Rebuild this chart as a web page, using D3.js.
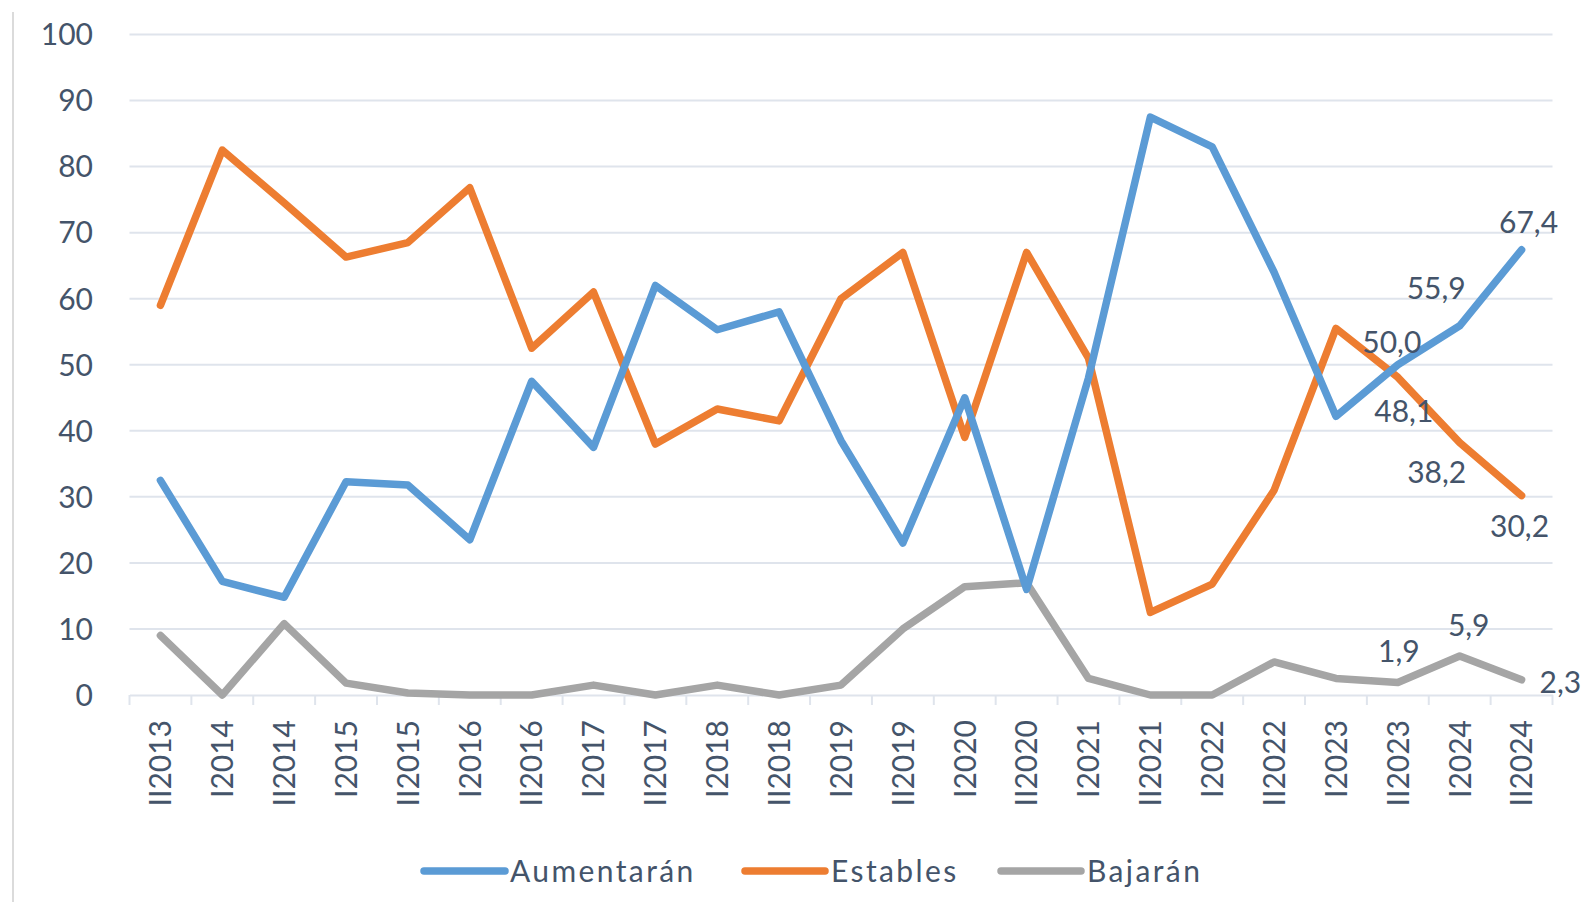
<!DOCTYPE html>
<html>
<head>
<meta charset="utf-8">
<script src="https://cdn.jsdelivr.net/npm/d3@7/dist/d3.min.js"></script>
<style>
  html, body { margin: 0; padding: 0; background: #ffffff; }
  svg { display: block; }
  text { font-family: Lato, "Open Sans", sans-serif; fill: #44546a; }
</style>
</head>
<body>
<script>
const categories = ["II2013","I2014","II2014","I2015","II2015","I2016","II2016","I2017","II2017","I2018","II2018","I2019","II2019","I2020","II2020","I2021","II2021","I2022","II2022","I2023","II2023","I2024","II2024"];
const aumentaran = [32.5, 17.2, 14.8, 32.3, 31.8, 23.5, 47.5, 37.5, 62.0, 55.3, 58.0, 38.5, 23.0, 45.0, 16.0, 48.0, 87.5, 83.0, 64.0, 42.2, 50.0, 55.9, 67.4];
const estables   = [59.0, 82.5, 74.5, 66.3, 68.5, 76.8, 52.5, 61.0, 38.0, 43.3, 41.5, 60.0, 67.0, 39.0, 67.0, 51.0, 12.5, 16.8, 31.0, 55.5, 48.1, 38.2, 30.2];
const bajaran    = [9.0, 0.0, 10.8, 1.8, 0.3, 0.0, 0.0, 1.5, 0.0, 1.5, 0.0, 1.5, 10.0, 16.4, 17.0, 2.5, 0.0, 0.0, 5.0, 2.5, 1.9, 5.9, 2.3];
const seriesNames = ["Aumentarán", "Estables", "Bajarán"];
const yTicks = [0, 10, 20, 30, 40, 50, 60, 70, 80, 90, 100];
const labeledIdx = [20, 21, 22];

(function () {
const colors = ["#5b9bd5", "#ed7d31", "#a5a5a5"];
const W = 1588, H = 902;
const pLeft = 129.5, pRight = 1552.5, pTop = 34.5, pBottom = 695;

const svg = d3.select("body").append("svg").attr("width", W).attr("height", H);

// left border line
svg.append("line").attr("x1", 13).attr("x2", 13).attr("y1", 12).attr("y2", H)
  .attr("stroke", "#cfcfcf").attr("stroke-width", 1.5);

const x = d3.scaleBand().domain(categories).range([pLeft, pRight]).padding(0);
const y = d3.scaleLinear().domain([0, 100]).range([pBottom, pTop]);

// gridlines
svg.append("g").selectAll("line").data(yTicks.filter(d => d > 0)).join("line")
  .attr("x1", pLeft).attr("x2", pRight)
  .attr("y1", d => y(d)).attr("y2", d => y(d))
  .attr("stroke", "#dfe4ec").attr("stroke-width", 2);

// y axis labels
svg.append("g").selectAll("text").data(yTicks).join("text")
  .attr("x", 93).attr("y", d => y(d))
  .attr("dy", "0.36em")
  .attr("text-anchor", "end")
  .attr("font-size", 30)
  .text(d => d);

// x axis line + ticks
const xAxis = d3.axisBottom(x).tickSize(0).tickFormat("");
const gx = svg.append("g").attr("transform", `translate(0,${pBottom})`).call(xAxis);
gx.select(".domain").attr("stroke", "#dfe4ec").attr("stroke-width", 2);
gx.selectAll(".tick").remove();
const bounds = categories.map(c => x(c)).concat([pRight]);
gx.selectAll("line.tk").data(bounds).join("line").attr("class", "tk")
  .attr("x1", d => d).attr("x2", d => d).attr("y1", 0).attr("y2", 10)
  .attr("stroke", "#dfe4ec").attr("stroke-width", 2);

// x labels
svg.append("g").selectAll("text").data(categories).join("text")
  .attr("transform", d => `translate(${x(d) + x.bandwidth() / 2},720) rotate(-90)`)
  .attr("text-anchor", "end")
  .attr("dy", "0.36em")
  .attr("font-size", 30)
  .text(d => d);

// lines
const allSeries = [aumentaran, estables, bajaran];
const line = d3.line()
  .x((d, i) => x(categories[i]) + x.bandwidth() / 2)
  .y(d => y(d));

[2, 1, 0].forEach(k => {
  svg.append("path").datum(allSeries[k])
    .attr("d", line)
    .attr("fill", "none")
    .attr("stroke", colors[k])
    .attr("stroke-width", 7.5)
    .attr("stroke-linejoin", "round")
    .attr("stroke-linecap", "round");
});

// data labels (placement offsets per label)
const fmt = v => v.toFixed(1).replace(".", ",");
const labelOffsets = [
  [[-6, -12, "middle"], [6, -27, "end"], [7, -17, "middle"]],
  [[6, 45, "middle"], [-23, 40, "middle"], [-2, 41, "middle"]],
  [[1, -20, "middle"], [9, -20, "middle"], [18, 13, "start"]]
];
allSeries.forEach((s, k) => {
  labeledIdx.forEach((i, j) => {
    const o = labelOffsets[k][j];
    svg.append("text")
      .attr("x", x(categories[i]) + x.bandwidth() / 2 + o[0])
      .attr("y", y(s[i]) + o[1])
      .attr("text-anchor", o[2])
      .attr("font-size", 30)
      .text(fmt(s[i]));
  });
});

// legend
const legendItems = [
  { x0: 424, x1: 505, tx: 510 },
  { x0: 745, x1: 825, tx: 831 },
  { x0: 1001, x1: 1081, tx: 1087 }
];
const ly = 871;
legendItems.forEach((it, k) => {
  svg.append("line").attr("x1", it.x0).attr("x2", it.x1).attr("y1", ly).attr("y2", ly)
    .attr("stroke", colors[k]).attr("stroke-width", 7.5).attr("stroke-linecap", "round");
  svg.append("text").attr("x", it.tx).attr("y", ly).attr("dy", "0.36em")
    .attr("font-size", 30).attr("letter-spacing", 2.4)
    .text(seriesNames[k]);
});
})();
</script>
</body>
</html>
